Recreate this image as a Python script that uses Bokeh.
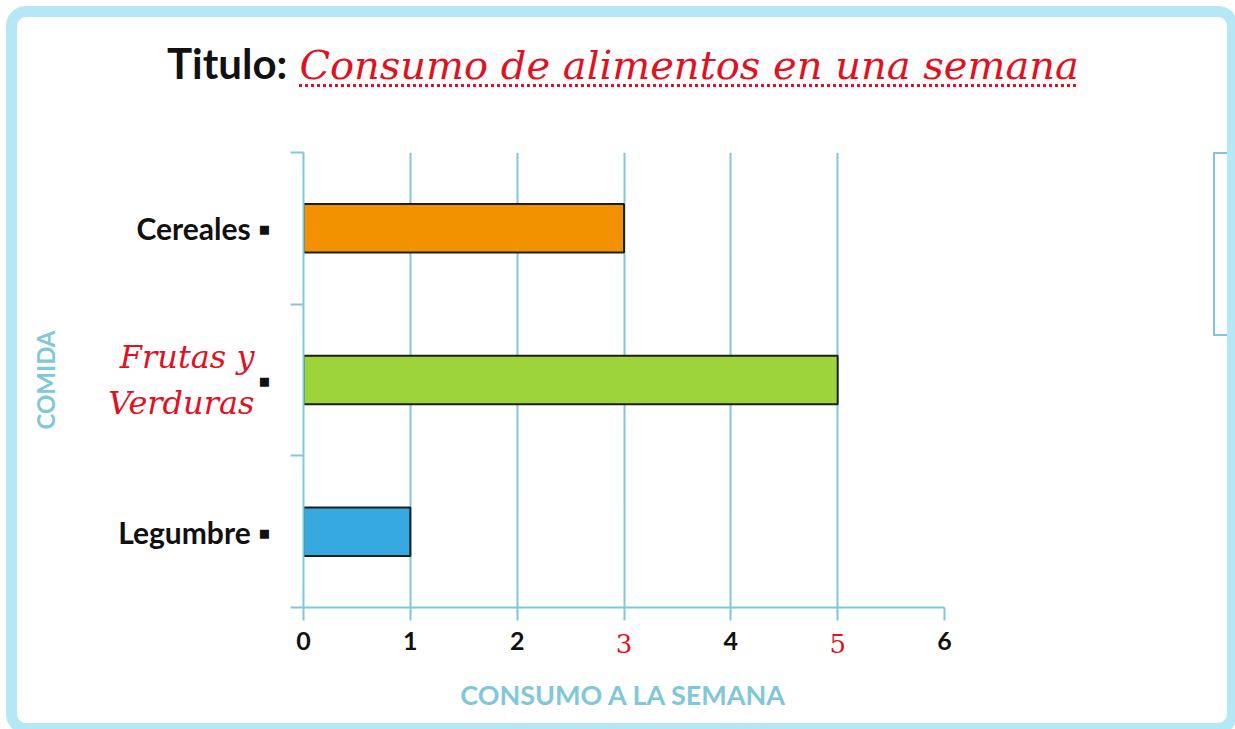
from bokeh.plotting import figure
from bokeh.layouts import column
from bokeh.models import (Range1d, LinearAxis, FixedTicker, Legend, LegendItem,
                          ColumnDataSource, Div)
from bokeh.embed import file_html
from bokeh.resources import INLINE

# ---- data ----
categories = ["Cereales", "Frutas y Verduras", "Legumbre"]
consumo = [3, 5, 1]
bar_colors = ["#F39200", "#9DD43A", "#36A9E1"]
x_ticks = [0, 1, 2, 3, 4, 5, 6]
highlighted_ticks = [3, 5]
handwritten_category = "Frutas y Verduras"
handwritten_label = "Frutas y\nVerduras"
title_prefix = "Titulo:"
title_text = "Consumo de alimentos en una semana"
x_label = "CONSUMO A LA SEMANA"
y_label = "COMIDA"

# ---- styles ----
BLUE = "#80C8D9"
FRAME_BLUE = "#B6E7F6"
RED = "#E3101F"
BLACK = "#111111"
SANS = "Lato"
SCRIPT = "DejaVu Serif"

n = len(categories)
ypos = [n - i - 0.5 for i in range(n)]  # first category on top

# ---- title (HTML text) + page frame ----
title_html = (
    '<div style="position:relative;width:1219px;height:110px;">'
    f'<div style="position:fixed;left:6px;top:6px;width:1232px;height:728px;'
    f'box-sizing:border-box;border:11px solid {FRAME_BLUE};border-radius:20px;'
    'pointer-events:none;z-index:50;"></div>'
    '<div style="position:absolute;left:167px;top:33px;white-space:nowrap;line-height:60px;">'
    f'<span style="font-family:Lato;font-weight:bold;font-size:42px;color:{BLACK};">{title_prefix}</span>'
    f'<span style="margin-left:12px;font-family:\'DejaVu Serif\';font-style:italic;font-size:40px;'
    f'color:{RED};text-decoration:underline dotted {RED};text-decoration-thickness:3px;'
    f'text-underline-offset:5px;">{title_text}</span>'
    '</div></div>'
)
title_div = Div(text=title_html, width=1219, height=110, margin=0)

# ---- chart ----
p = figure(width=1219, height=603, frame_width=641,
           y_range=Range1d(0, n), x_range=Range1d(0, 6),
           y_axis_location=None,
           output_backend="svg", toolbar_location=None,
           min_border_left=303, min_border_right=275,
           min_border_top=42, min_border_bottom=93, margin=0)
p.outline_line_color = None
p.background_fill_color = "white"
p.border_fill_color = "white"
p.ygrid.visible = False
p.xgrid.ticker = FixedTicker(ticks=x_ticks)
p.xgrid.grid_line_color = BLUE
p.xgrid.grid_line_width = 2

# main x axis
xa = p.xaxis[0]
xa.ticker = FixedTicker(ticks=x_ticks)
xa.major_label_overrides = {t: "" for t in highlighted_ticks}
xa.axis_line_color = BLUE
xa.axis_line_width = 2
xa.major_tick_line_color = BLUE
xa.major_tick_line_width = 2
xa.major_tick_in = 0
xa.major_tick_out = 13
xa.minor_tick_line_color = None
xa.major_label_standoff = 11
xa.major_label_text_font = SANS
xa.major_label_text_font_style = "bold"
xa.major_label_text_font_size = "25px"
xa.major_label_text_color = BLACK

# handwritten x tick labels + axis title
red_x = LinearAxis(ticker=FixedTicker(ticks=highlighted_ticks),
                   axis_line_color=None, major_tick_line_color=None,
                   minor_tick_line_color=None, major_tick_in=0, major_tick_out=0,
                   major_label_standoff=-19,
                   major_label_text_font=SCRIPT, major_label_text_font_size="26px",
                   major_label_text_color=RED,
                   axis_label=x_label, axis_label_text_font=SANS,
                   axis_label_text_font_style="bold", axis_label_text_font_size="27px",
                   axis_label_text_color=BLUE, axis_label_standoff=22)
p.add_layout(red_x, "below")

# y axes: boundary ticks, category labels, handwritten label
bounds = list(range(n + 1))
tick_axis = LinearAxis(ticker=FixedTicker(ticks=bounds),
                       major_label_overrides={b: "" for b in bounds},
                       axis_line_color=BLUE, axis_line_width=2,
                       major_tick_line_color=BLUE, major_tick_line_width=2,
                       major_tick_in=0, major_tick_out=13,
                       minor_tick_line_color=None,
                       major_label_standoff=0, major_label_text_font_size="1px")
p.add_layout(tick_axis, "left")

overrides = {}
for y, c in zip(ypos, categories):
    overrides[y] = "\u25AA" if c == handwritten_category else c + " \u25AA"
label_axis = LinearAxis(ticker=FixedTicker(ticks=ypos),
                        major_label_overrides=overrides,
                        axis_line_color=None, major_tick_line_color=None,
                        minor_tick_line_color=None,
                        major_tick_in=0, major_tick_out=0,
                        major_label_standoff=20,
                        major_label_text_font=SANS,
                        major_label_text_font_style="bold",
                        major_label_text_font_size="30px",
                        major_label_text_color=BLACK)
p.add_layout(label_axis, "left")

hw_y = [y for y, c in zip(ypos, categories) if c == handwritten_category]
red_y = LinearAxis(ticker=FixedTicker(ticks=hw_y),
                   major_label_overrides={hw_y[0]: handwritten_label},
                   axis_line_color=None, major_tick_line_color=None,
                   minor_tick_line_color=None, major_tick_in=0, major_tick_out=0,
                   major_label_standoff=-139,
                   major_label_text_font=SCRIPT, major_label_text_font_style="italic",
                   major_label_text_font_size="32px", major_label_text_color=RED,
                   axis_label=y_label, axis_label_text_font=SANS,
                   axis_label_text_font_style="bold", axis_label_text_font_size="24px",
                   axis_label_text_color=BLUE, axis_label_standoff=45)
p.add_layout(red_y, "left")

# bars
src = ColumnDataSource(dict(y=ypos, cat=categories, val=consumo, color=bar_colors))
r = p.hbar(y="y", left=0, right="val", height=0.32, fill_color="color",
           line_color="#1E1E1E", line_width=2, source=src)

# spacer between frame and legend (right panel)
spacer = LinearAxis(ticker=FixedTicker(ticks=[0]), major_label_overrides={0: ""},
                    axis_line_color=None, major_tick_line_color=None,
                    minor_tick_line_color=None, major_tick_in=0, major_tick_out=30,
                    major_label_standoff=0, major_label_text_font_size="1px")
p.add_layout(spacer, "right")

# legend (right panel)
items = [LegendItem(label=c, renderers=[r], index=i) for i, c in enumerate(categories)]
legend = Legend(items=items, location="top_left", margin=0,
                border_line_color=BLUE, border_line_width=2, border_line_alpha=1,
                background_fill_color="white", background_fill_alpha=1,
                padding=16, spacing=32, label_height=28,
                glyph_height=22, glyph_width=22, label_standoff=6,
                label_text_font=SANS, label_text_font_size="19px",
                label_text_color=BLACK)
p.add_layout(legend, "right")

layout = column(title_div, p, spacing=0)
open("out.html", "w").write(file_html(layout, INLINE))
